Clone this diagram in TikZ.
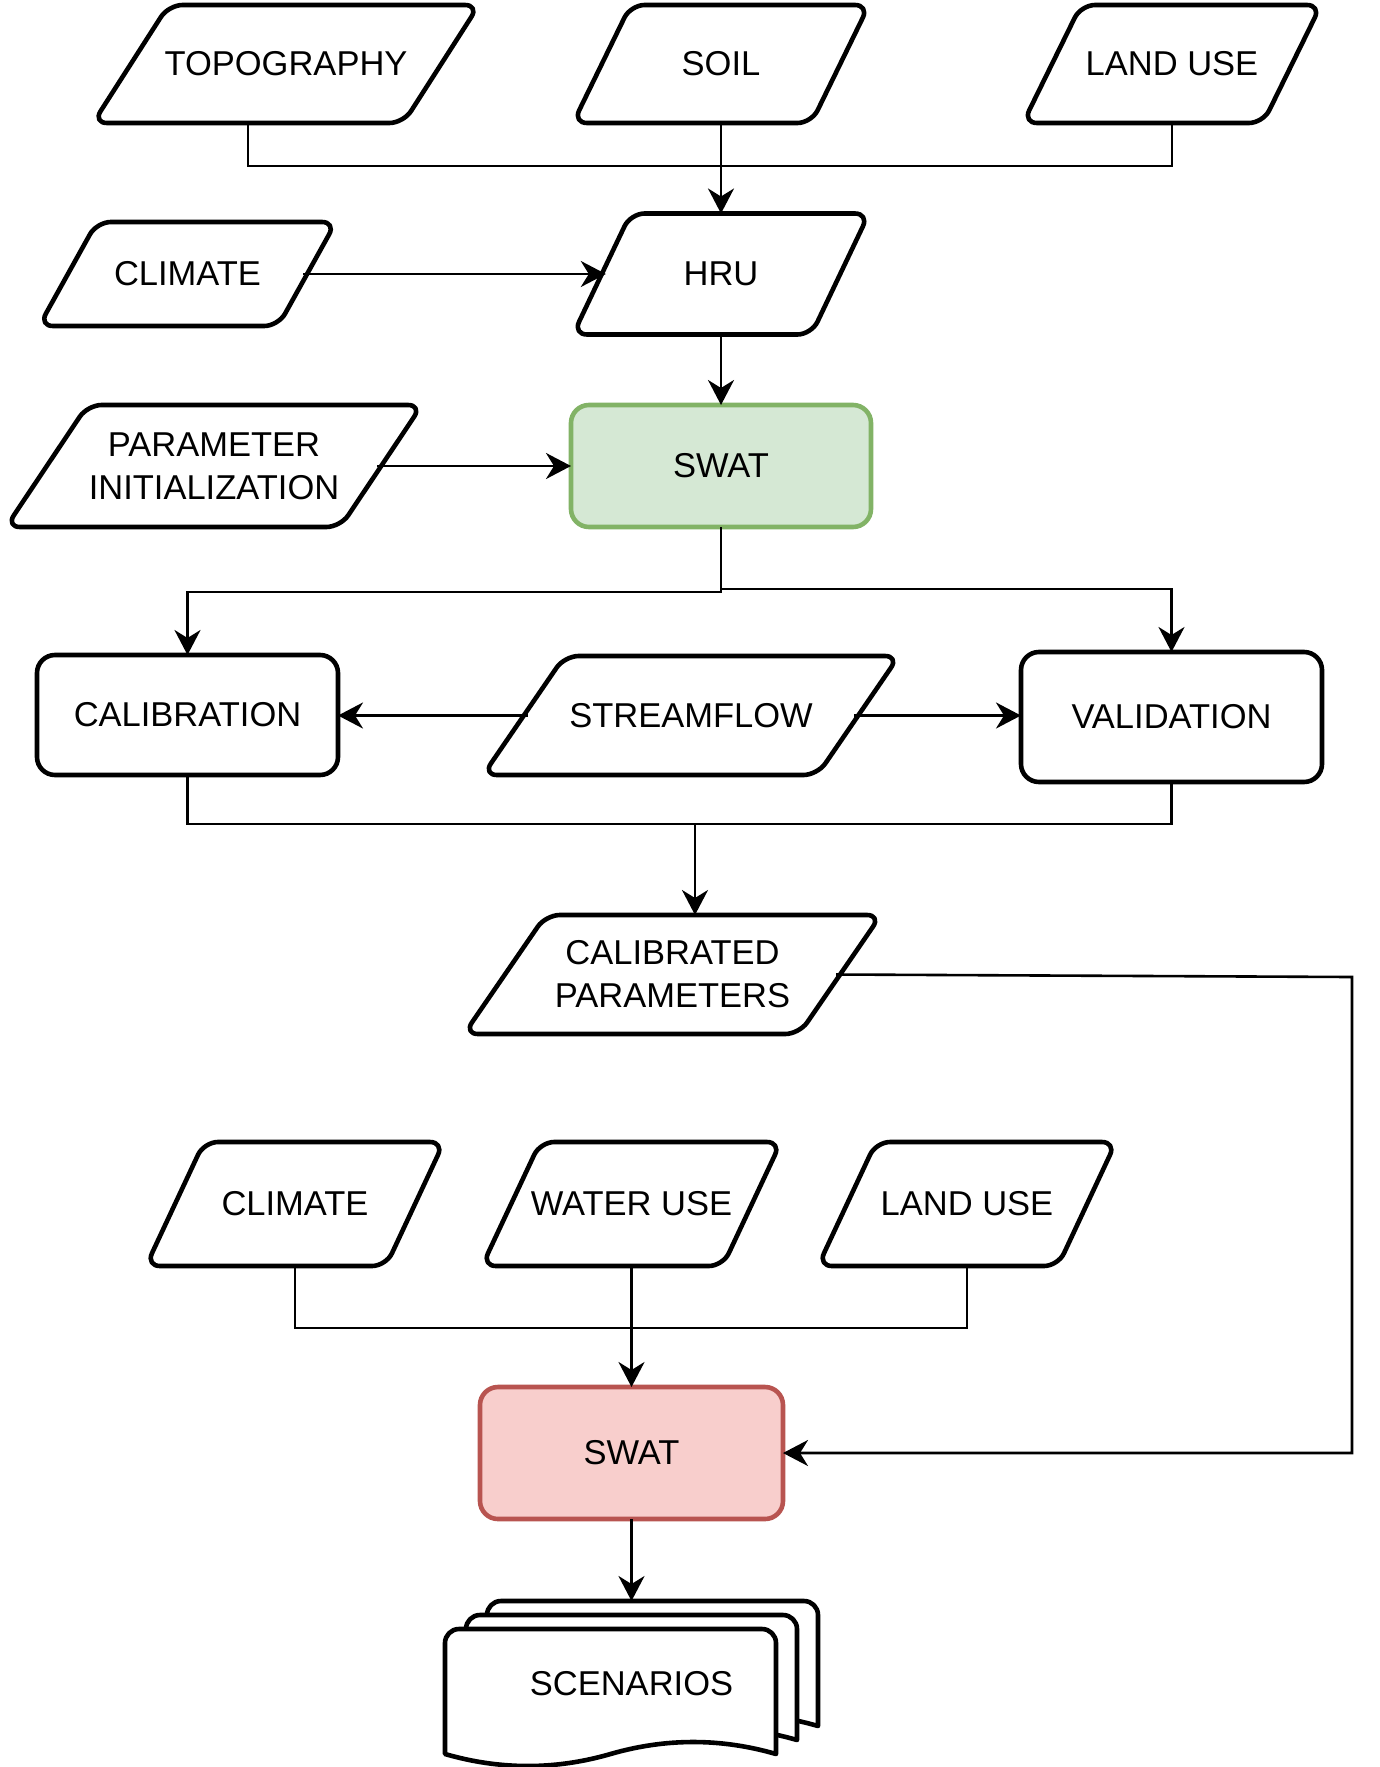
\documentclass[tikz,border=0pt]{standalone}
\usepackage{fontspec}
\setmainfont{Liberation Sans}
\usetikzlibrary{arrows.meta,calc}
\definecolor{gfill}{HTML}{D5E8D4}
\definecolor{gdraw}{HTML}{82B366}
\definecolor{rfill}{HTML}{F8CECC}
\definecolor{rdraw}{HTML}{B85450}
\tikzset{
  txtbox/.style={rectangle, inner sep=0pt, outer sep=0pt, align=center, font=\fontsize{34.5}{43}\selectfont},
  shp/.style={line width=4.6pt, rounded corners=14pt, line join=round},
  rbox/.style={txtbox, draw, line width=4.6pt, rounded corners=18pt},
  conn/.style={line width=2.6pt},
  arr/.style={conn, -{Stealth[length=25pt,width=26pt,inset=8pt]}},
}
% parallelogram: name, cx, cy, width, height, text
\newcommand\paral[6]{%
  \node[txtbox, minimum width={(#4+8)*1pt}, minimum height=#5pt] (#1) at (#2,#3) {#6};
  \draw[shp] (#1.south west) -- ([xshift={-0.2*#4pt}]#1.south east) -- (#1.north east) -- ([xshift={0.2*#4pt}]#1.north west) -- cycle;}
% document sheet: left x, top y
\newcommand\docsheet[2]{%
  \draw[line width=4.6pt, line join=round, fill=white] (#1,#2+125) [rounded corners=14pt] -- (#1,#2) -- (#1+331,#2) -- (#1+331,#2+40) [sharp corners] -- (#1+331,#2+125)
    .. controls (#1+275.8,#2+109) and (#1+220.7,#2+109) .. (#1+165.5,#2+125)
    .. controls (#1+110.3,#2+141) and (#1+55.2,#2+141) .. (#1,#2+125) -- cycle;}
\begin{document}
\begin{tikzpicture}[x=1pt,y=-1pt]
\useasboundingbox (0,0) rectangle (1380,1767);
% top inputs
\paral{topo}{286}{64}{378}{118}{TOPOGRAPHY}
\paral{soil}{721}{64}{288}{118}{SOIL}
\paral{land1}{1172}{64}{290}{118}{LAND USE}
\paral{clim1}{187.5}{274}{289}{104}{CLIMATE}
\paral{hru}{721}{274}{288}{121}{HRU}
\paral{param}{214}{466}{408}{122}{PARAMETER\\INITIALIZATION}
\node[rbox, fill=gfill, draw=gdraw, minimum width=300pt, minimum height=122pt] (swat1) at (721,466) {SWAT};
% calibration / validation
\node[rbox, minimum width=301pt, minimum height=120pt] (calib) at (187.5,715) {CALIBRATION};
\paral{stream}{691}{715.5}{408}{119}{STREAMFLOW}
\node[rbox, minimum width=301pt, minimum height=130pt] (valid) at (1171.5,717) {VALIDATION};
\paral{calpar}{672.5}{974.5}{409}{119}{CALIBRATED\\PARAMETERS}
% scenario inputs
\paral{clim2}{295}{1204}{290}{124}{CLIMATE}
\paral{water}{631.5}{1204}{291}{124}{WATER USE}
\paral{land2}{967}{1204}{290}{124}{LAND USE}
\node[rbox, fill=rfill, draw=rdraw, minimum width=303pt, minimum height=132pt] (swat2) at (631.5,1453) {SWAT};
% scenarios (multi-document)
\docsheet{487}{1601}
\docsheet{466}{1615}
\docsheet{445}{1629}
\node[txtbox, minimum width=373pt, minimum height=165pt] (scen) at (631.5,1683.5) {SCENARIOS};
% connectors
\coordinate (j1) at (721,166);
\draw[conn] ([xshift=-38pt]topo.south) |- (j1);
\draw[conn] (land1.south) |- (j1);
\draw[arr] (soil.south) -- (hru.north);
\draw[arr] ([xshift=-32.9pt]clim1.east) -- ([xshift=32.8pt]hru.west);
\draw[arr] (hru.south) -- (swat1.north);
\draw[arr] ([xshift=-44.8pt]param.east) -- (swat1.west);
\draw[arr] (swat1.south) -- ++(0,65) -| (calib.north);
\draw[arr] (swat1.south) -- ++(0,62) -| (valid.north);
\draw[arr] ([xshift=44.8pt]stream.west) -- (calib.east |- stream.center);
\draw[arr] ([xshift=-44.8pt]stream.east) -- (valid.west |- stream.center);
\coordinate (j3) at (695,824);
\draw[conn] (calib.south) |- (j3);
\draw[conn] (valid.south) |- (j3);
\draw[arr] (j3) -- (j3 |- calpar.north);
\coordinate (r1) at (1352,977);
\draw[arr] ([xshift=-44.9pt]calpar.east) -- (r1) |- (swat2.east);
\coordinate (j4) at (631.5,1328);
\draw[conn] (clim2.south) |- (j4);
\draw[conn] (land2.south) |- (j4);
\draw[arr] (water.south) -- (swat2.north);
\draw[arr] (swat2.south) -- (scen.north);
\end{tikzpicture}
\end{document}
